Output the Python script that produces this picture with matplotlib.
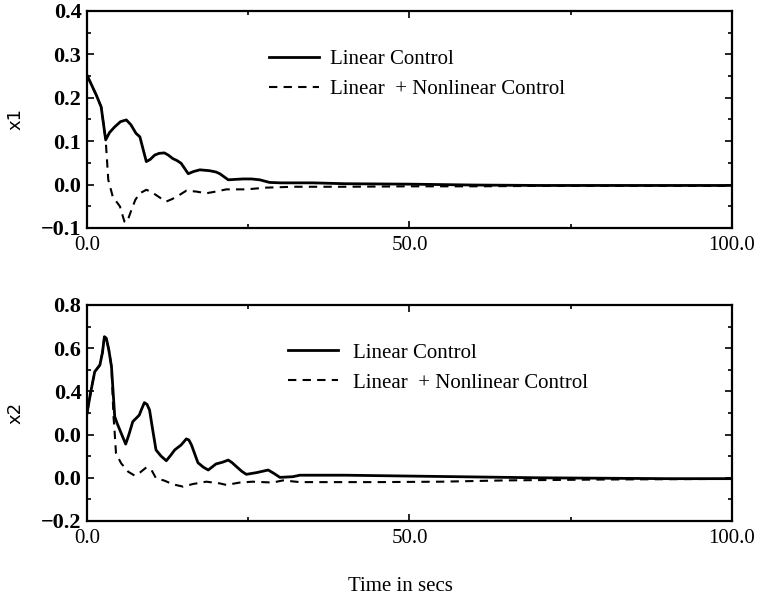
import matplotlib
matplotlib.use("Agg")
import matplotlib.pyplot as plt
from matplotlib.ticker import MultipleLocator, FixedLocator, FixedFormatter

# x1 response
t_x1_lin = [0, 0.7, 1.45, 2.2, 2.9, 3.5, 4.3, 5.2, 6.1, 6.8, 7.6, 8.2, 9.2, 9.8, 10.5,
            11.2, 12.0, 12.6, 13.3, 14.0, 14.6, 15.7, 16.5, 17.5, 19.0, 20.0, 20.6,
            21.9, 23.0, 24.2, 25.5, 26.8, 28.3, 30, 35, 40, 50, 60, 70, 80, 90, 100]
x1_lin = [0.252, 0.23, 0.206, 0.179, 0.103, 0.12, 0.133, 0.145, 0.149, 0.138, 0.118,
          0.11, 0.053, 0.058, 0.068, 0.072, 0.073, 0.068, 0.06, 0.055, 0.049, 0.025,
          0.03, 0.034, 0.032, 0.029, 0.025, 0.011, 0.012, 0.013, 0.013, 0.011, 0.005,
          0.004, 0.004, 0.002, 0.001, -0.001, -0.002, -0.002, -0.002, -0.002]

t_x1_nl = [0, 0.7, 1.45, 2.2, 2.9, 3.1, 3.3, 4.0, 5.1, 5.8, 6.2, 6.9, 7.5, 8.2, 9.2,
           10.0, 10.7, 11.5, 12.3, 13.1, 13.9, 15.4, 16.9, 18.5, 20.0, 21.6, 24.7,
           27.8, 32, 40, 50, 60, 70, 80, 100]
x1_nl = [0.252, 0.23, 0.206, 0.179, 0.103, 0.057, 0.011, -0.028, -0.05, -0.085,
         -0.087, -0.058, -0.035, -0.02, -0.012, -0.017, -0.024, -0.032, -0.039,
         -0.034, -0.028, -0.014, -0.016, -0.02, -0.016, -0.011, -0.011, -0.007,
         -0.005, -0.005, -0.004, -0.004, -0.003, -0.003, -0.003]

# x2 response
t_x2_lin = [0, 0.6, 1.2, 2.0, 2.4, 2.7, 3.0, 3.4, 3.8, 4.3, 4.7, 5.1, 6.0, 6.5, 7.1,
            8.1, 8.5, 8.9, 9.3, 9.7, 10.2, 10.7, 11.5, 12.3, 13.0, 13.6, 14.6, 15.4,
            15.8, 16.2, 17.2, 18.0, 18.8, 19.4, 20, 21.0, 21.9, 22.5, 23.2, 24.0,
            24.7, 25.5, 26.3, 27.2, 28.1, 29.0, 29.9, 31.9, 33, 40, 50, 60, 70, 80,
            90, 100]
x2_lin = [0.298, 0.40, 0.491, 0.522, 0.58, 0.653, 0.646, 0.59, 0.514, 0.283, 0.25,
          0.221, 0.156, 0.2, 0.26, 0.29, 0.32, 0.348, 0.34, 0.314, 0.22, 0.129, 0.1,
          0.079, 0.105, 0.129, 0.152, 0.18, 0.175, 0.152, 0.07, 0.05, 0.036, 0.05,
          0.064, 0.072, 0.082, 0.07, 0.051, 0.03, 0.016, 0.02, 0.024, 0.03, 0.036,
          0.02, 0.002, 0.005, 0.012, 0.012, 0.008, 0.004, 0.0, -0.002, -0.004, -0.004]

t_x2_nl = [0, 0.6, 1.2, 2.0, 2.4, 2.7, 3.0, 3.4, 3.8, 4.1, 4.3, 4.5, 5.3, 6.4, 7.4,
           8.2, 9.2, 10.0, 10.7, 12.0, 13.3, 14.9, 16.4, 18.5, 20.6, 21.6, 23.7,
           25.7, 28.8, 30.4, 33, 45, 55, 65, 80, 100]
x2_nl = [0.298, 0.40, 0.491, 0.522, 0.58, 0.653, 0.646, 0.59, 0.514, 0.29, 0.206,
         0.113, 0.067, 0.028, 0.01, 0.024, 0.048, 0.036, -0.002, -0.013, -0.03,
         -0.041, -0.029, -0.018, -0.026, -0.033, -0.022, -0.018, -0.022, -0.012,
         -0.02, -0.02, -0.018, -0.012, -0.008, -0.005]

x_ticks = [0, 50, 100]
x_labels = ["0.0", "50.0", "100.0"]
y1_ticks = [-0.1, 0.0, 0.1, 0.2, 0.3, 0.4]
y1_labels = ["\u22120.1", "0.0", "0.1", "0.2", "0.3", "0.4"]
y2_ticks = [-0.2, 0.0, 0.2, 0.4, 0.6, 0.8]
y2_labels = ["\u22120.2", "0.0", "0.0", "0.4", "0.6", "0.8"]  # as printed

plt.rcParams["font.family"] = ["Liberation Serif", "DejaVu Serif"]

fig = plt.figure(figsize=(7.59, 6.03), dpi=100)
ax1 = fig.add_axes([0.1146, 0.6219, 0.8498, 0.3599])
ax2 = fig.add_axes([0.1146, 0.1360, 0.8498, 0.3582])


def style(ax, yticks, ylabels, ylim, yminor, name):
    ax.set_xlim(0, 100)
    ax.set_ylim(*ylim)
    ax.xaxis.set_major_locator(FixedLocator(x_ticks))
    ax.xaxis.set_major_formatter(FixedFormatter(x_labels))
    ax.xaxis.set_minor_locator(MultipleLocator(25))
    ax.yaxis.set_major_locator(FixedLocator(yticks))
    ax.yaxis.set_major_formatter(FixedFormatter(ylabels))
    ax.yaxis.set_minor_locator(MultipleLocator(yminor))
    ax.tick_params(which="both", direction="in", top=True, right=True, width=1.2)
    ax.tick_params(which="major", length=5)
    ax.tick_params(which="minor", length=3)
    ax.tick_params(axis="x", labelsize=15, pad=6)
    ax.tick_params(axis="y", labelsize=16, pad=4)
    for lab in ax.get_yticklabels():
        lab.set_fontweight("bold")
    for sp in ax.spines.values():
        sp.set_linewidth(1.6)
    ax.set_ylabel(name, family="DejaVu Sans", fontsize=13, labelpad=12)


ax1.plot(t_x1_lin, x1_lin, color="black", lw=2.0, label="Linear Control")
ax1.plot(t_x1_nl, x1_nl, color="black", lw=1.5, dashes=(4, 3),
         label="Linear  + Nonlinear Control")
style(ax1, y1_ticks, y1_labels, (-0.1, 0.4), 0.05, "x1")
ax1.legend(loc="upper left", bbox_to_anchor=(0.253, 0.91), frameon=False,
           fontsize=15, handlelength=2.4, handletextpad=0.55, labelspacing=0.5)

ax2.plot(t_x2_lin, x2_lin, color="black", lw=2.0, label="Linear Control")
ax2.plot(t_x2_nl, x2_nl, color="black", lw=1.5, dashes=(4, 3),
         label="Linear  + Nonlinear Control")
style(ax2, y2_ticks, y2_labels, (-0.2, 0.8), 0.1, "x2")
ax2.legend(loc="upper left", bbox_to_anchor=(0.282, 0.91), frameon=False,
           fontsize=15, handlelength=2.4, handletextpad=0.75, labelspacing=0.5)

fig.text(0.527, 0.027, "Time in secs", ha="center", va="center", fontsize=15)

fig.savefig("out.png", dpi=100)
